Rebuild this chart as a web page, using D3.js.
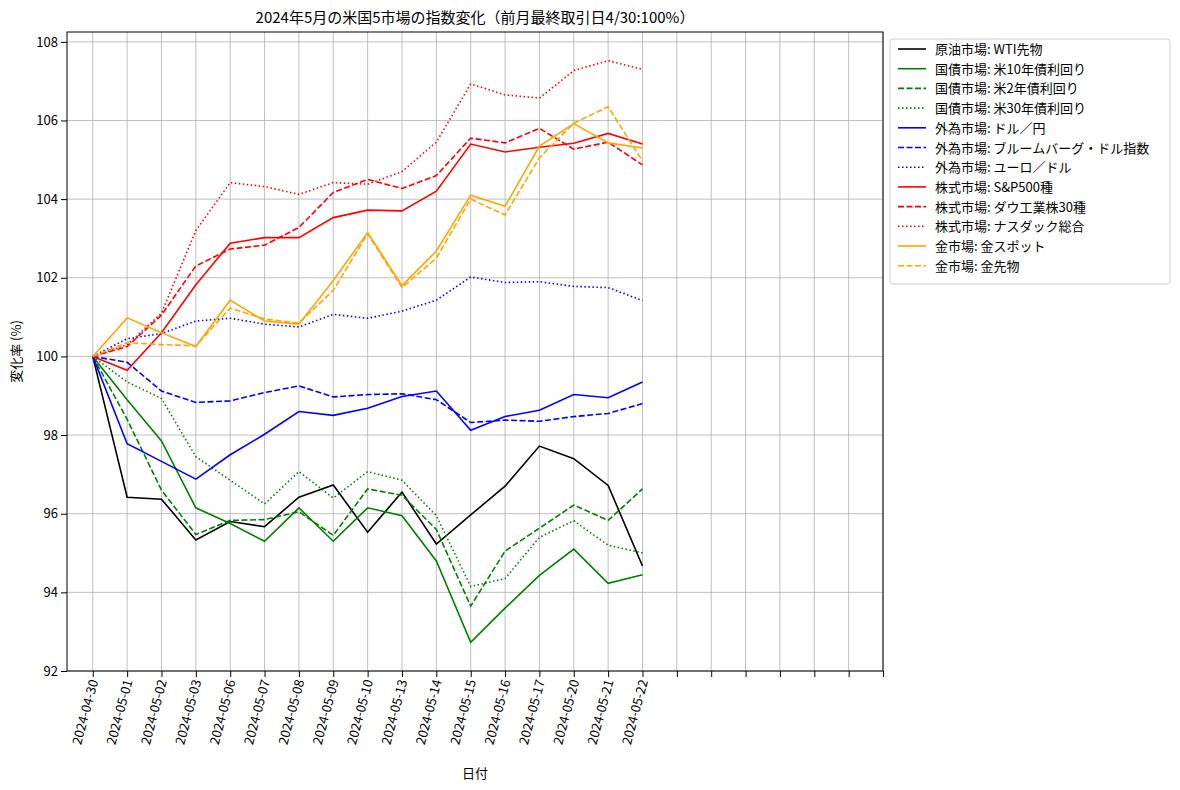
<!DOCTYPE html>
<html><head><meta charset="utf-8">
<script src="https://cdn.jsdelivr.net/npm/d3@7"></script>
<style>body{margin:0;background:#fff;font-family:"Noto Sans CJK JP","DejaVu Sans",sans-serif;}</style>
</head><body><div id="chart"></div>
<script>
// Dates (categories)
var dates = ["2024-04-30","2024-05-01","2024-05-02","2024-05-03","2024-05-06","2024-05-07","2024-05-08","2024-05-09","2024-05-10","2024-05-13","2024-05-14","2024-05-15","2024-05-16","2024-05-17","2024-05-20","2024-05-21","2024-05-22"];
var extraTicks = 7; // empty category ticks after the last date

var wti   = [100,96.42,96.37,95.33,95.8,95.67,96.42,96.73,95.53,96.55,95.23,95.97,96.7,97.72,97.4,96.72,94.67];
var us10  = [100,98.9,97.85,96.15,95.75,95.3,96.15,95.3,96.15,95.95,94.8,92.73,93.6,94.43,95.1,94.23,94.45];
var us2   = [100,98.4,96.6,95.47,95.83,95.85,96.05,95.45,96.63,96.47,95.6,93.65,95.05,95.63,96.22,95.83,96.63];
var us30  = [100,99.35,98.93,97.45,96.85,96.25,97.07,96.4,97.07,96.85,95.95,94.15,94.35,95.4,95.82,95.2,95.0];
var usdjpy= [100,97.78,97.33,96.88,97.5,98.02,98.6,98.5,98.68,98.98,99.12,98.12,98.47,98.63,99.03,98.95,99.35];
var bbdxy = [100,99.85,99.12,98.83,98.87,99.08,99.25,98.97,99.03,99.05,98.9,98.32,98.38,98.35,98.47,98.55,98.8];
var eurusd= [100,100.45,100.58,100.9,100.97,100.82,100.75,101.07,100.97,101.15,101.43,102.02,101.88,101.9,101.78,101.75,101.42];
var sp500 = [100,99.65,100.6,101.82,102.88,103.02,103.02,103.53,103.72,103.7,104.2,105.4,105.2,105.32,105.42,105.67,105.4];
var dow   = [100,100.25,101.05,102.3,102.73,102.83,103.28,104.17,104.5,104.27,104.6,105.55,105.43,105.8,105.27,105.45,104.87];
var nasdaq= [100,100.3,101.1,103.2,104.42,104.32,104.12,104.42,104.38,104.7,105.45,106.93,106.65,106.57,107.27,107.52,107.3];
var goldSpot=[100,100.98,100.6,100.25,101.43,100.9,100.82,101.93,103.15,101.8,102.68,104.1,103.82,105.35,105.92,105.43,105.3];
var goldFut =[100,100.35,100.3,100.27,101.23,100.95,100.85,101.68,103.12,101.75,102.5,104.0,103.6,105.05,105.93,106.35,104.97];

var yTicks = [92,94,96,98,100,102,104,106,108];

var series = [
  {name:"原油市場: WTI先物", v:wti, c:"black", d:null},
  {name:"国債市場: 米10年債利回り", v:us10, c:"green", d:null},
  {name:"国債市場: 米2年債利回り", v:us2, c:"green", d:"6,2.5"},
  {name:"国債市場: 米30年債利回り", v:us30, c:"green", d:"1.5,2.5"},
  {name:"外為市場: ドル／円", v:usdjpy, c:"blue", d:null},
  {name:"外為市場: ブルームバーグ・ドル指数", v:bbdxy, c:"blue", d:"6,2.5"},
  {name:"外為市場: ユーロ／ドル", v:eurusd, c:"blue", d:"1.5,2.5"},
  {name:"株式市場: S&P500種", v:sp500, c:"red", d:null},
  {name:"株式市場: ダウ工業株30種", v:dow, c:"red", d:"6,2.5"},
  {name:"株式市場: ナスダック総合", v:nasdaq, c:"red", d:"1.5,2.5"},
  {name:"金市場: 金スポット", v:goldSpot, c:"orange", d:null},
  {name:"金市場: 金先物", v:goldFut, c:"orange", d:"6,2.5"}
];

var W = 1180, H = 790;
var pLeft = 67, pRight = 883, pTop = 32, pBottom = 671;

var svg = d3.select("#chart").append("svg").attr("width", W).attr("height", H);

var x = d3.scaleLinear().domain([-0.75, dates.length - 1 + extraTicks]).range([pLeft, pRight]);
var y = d3.scaleLinear().domain([92, 108.25]).range([pBottom, pTop]);

var tickIdx = d3.range(dates.length + extraTicks);

// grid
var g = svg.append("g");
g.selectAll(".vg").data(tickIdx).enter().append("line")
  .attr("x1", d => x(d)).attr("x2", d => x(d)).attr("y1", pTop).attr("y2", pBottom)
  .attr("stroke", "#b0b0b0").attr("stroke-width", 0.8);
g.selectAll(".hg").data(yTicks).enter().append("line")
  .attr("x1", pLeft).attr("x2", pRight).attr("y1", d => y(d)).attr("y2", d => y(d))
  .attr("stroke", "#b0b0b0").attr("stroke-width", 0.8);

// lines
var line = d3.line().x((d, i) => x(i)).y(d => y(d));
svg.append("g").selectAll("path").data(series).enter().append("path")
  .attr("d", d => line(d.v))
  .attr("fill", "none").attr("stroke", d => d.c).attr("stroke-width", 1.6)
  .attr("stroke-dasharray", d => d.d);

// axes
var xAxis = d3.axisBottom(x).tickValues(tickIdx).tickSizeOuter(0)
  .tickFormat(i => i < dates.length ? dates[i] : "");
var xg = svg.append("g").attr("transform", "translate(0," + pBottom + ")").call(xAxis);
xg.selectAll("text").attr("font-size", 13).attr("fill", "#000")
  .attr("text-anchor", "end").attr("dx", "0").attr("dy", "0").attr("y", 0)
  .attr("transform", "translate(5,10) rotate(-75)");
var yg = svg.append("g").attr("transform", "translate(" + pLeft + ",0)")
  .call(d3.axisLeft(y).tickValues(yTicks).tickSizeOuter(0));
yg.selectAll("text").attr("font-size", 13).attr("fill", "#000");
[xg, yg].forEach(a => { a.select(".domain").remove(); a.selectAll("line").attr("stroke", "#000"); a.attr("font-family", null); });

svg.append("rect").attr("x", pLeft).attr("y", pTop).attr("width", pRight - pLeft).attr("height", pBottom - pTop)
  .attr("fill", "none").attr("stroke", "#000").attr("stroke-width", 1);

// labels
svg.append("text").attr("x", (pLeft + pRight) / 2).attr("y", 23).attr("text-anchor", "middle")
  .attr("font-size", 15).text("2024年5月の米国5市場の指数変化（前月最終取引日4/30:100%）");
svg.append("text").attr("x", (pLeft + pRight) / 2).attr("y", 778).attr("text-anchor", "middle")
  .attr("font-size", 13).text("日付");
svg.append("text").attr("transform", "translate(21," + ((pTop + pBottom) / 2) + ") rotate(-90)")
  .attr("text-anchor", "middle").attr("font-size", 13).text("変化率 (%)");

// legend
var lg = svg.append("g").attr("transform", "translate(890,39)");
lg.append("rect").attr("width", 280).attr("height", 245).attr("rx", 3)
  .attr("fill", "#fff").attr("stroke", "#ccc");
var item = lg.selectAll(".it").data(series).enter().append("g")
  .attr("transform", (d, i) => "translate(8," + (10 + i * 19.7) + ")");
item.append("line").attr("x1", 0).attr("x2", 28).attr("y1", 0).attr("y2", 0)
  .attr("stroke", d => d.c).attr("stroke-width", 1.6).attr("stroke-dasharray", d => d.d);
item.append("text").attr("x", 37).attr("y", 5).attr("font-size", 13).text(d => d.name);
</script></body></html>
